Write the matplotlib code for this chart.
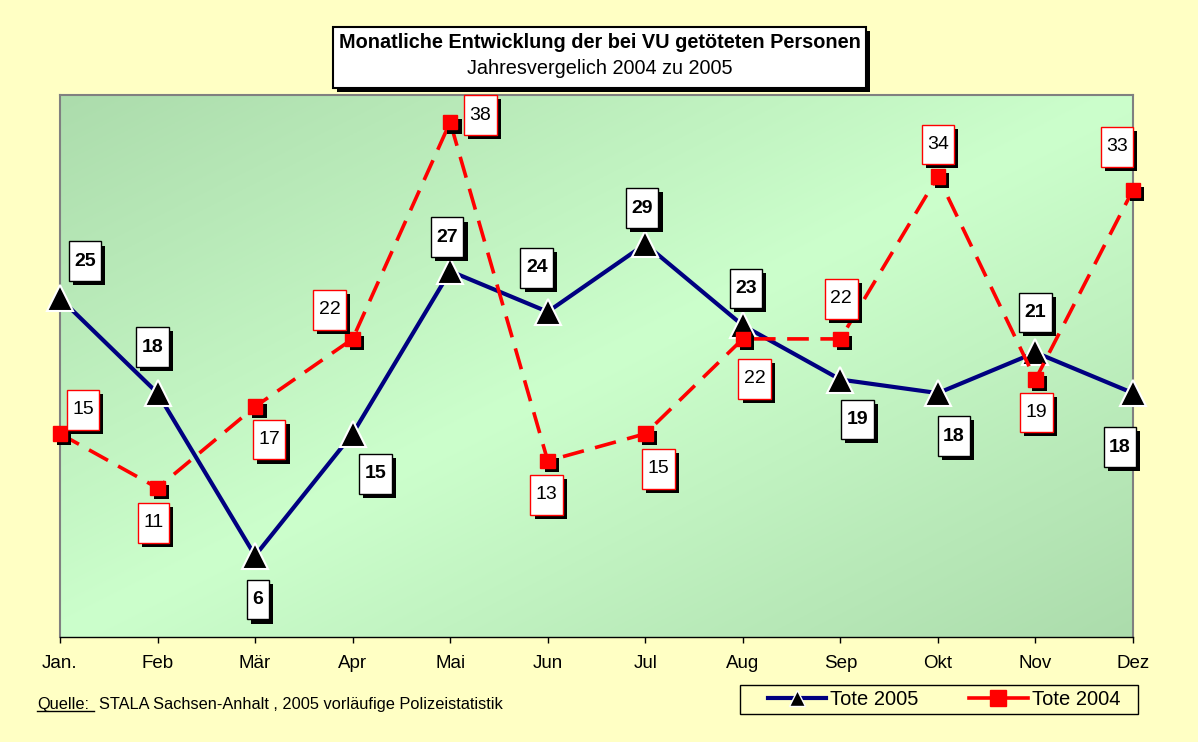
import numpy as np
import matplotlib
matplotlib.use('Agg')
import matplotlib.pyplot as plt
import matplotlib.patheffects as pe
from matplotlib.patches import Rectangle
from matplotlib.lines import Line2D
from matplotlib.path import Path

plt.rcParams['font.family'] = ['Liberation Sans', 'DejaVu Sans']

# data
months = ['Jan.', 'Feb', 'Mär', 'Apr', 'Mai', 'Jun', 'Jul', 'Aug', 'Sep', 'Okt', 'Nov', 'Dez']
tote_2005 = [25, 18, 6, 15, 27, 24, 29, 23, 19, 18, 21, 18]
tote_2004 = [15, 11, 17, 22, 38, 13, 15, 22, 22, 34, 19, 33]

# label offsets in pixels (dx, dy) relative to the point
off_2005 = [(25, 37), (-5, 46), (3, -44), (23, -40), (-3, 34), (-11, 44),
            (-3, 36), (3, 37), (17, -40), (16, -43), (0, 40), (-13, -54)]
off_2004 = [(23, 24), (-4, -35), (14, -33), (-23, 29), (30, 7), (-1, -34),
            (13, -35), (12, -40), (1, 40), (0, 32), (1, -33), (-16, 43)]

BG = '#FFFFC4'
NAVY = '#000080'
RED = '#FF0000'
W, H = 1198, 742


def tall_box(x0, y0, width, height, mutation_size):
    # rectangle padded more vertically than horizontally
    px = 0.28 * mutation_size
    py = 0.58 * mutation_size
    x0, y0 = x0 - px, y0 - py
    x1, y1 = x0 + width + 2 * px, y0 + height + 2 * py
    return Path([(x0, y0), (x1, y0), (x1, y1), (x0, y1), (x0, y0)], closed=True)


shadow = [pe.SimplePatchShadow(offset=(3, -3), shadow_rgbFace='black', alpha=1.0), pe.Normal()]

fig = plt.figure(figsize=(11.98, 7.42), dpi=100)
fig.patch.set_facecolor(BG)
ax = fig.add_axes([60 / W, 1 - 637 / H, (1133 - 60) / W, (637 - 95) / H])

# diagonal gradient background: dark at top-left / bottom-right, light in between
u = np.linspace(0, 1, 300)
v = np.linspace(1, 0, 300)
U, V = np.meshgrid(u, v)
t = (U + (1 - V)) / 2
f = 1 - np.abs(2 * t - 1)
dark = np.array([172, 220, 172]) / 255
light = np.array([204, 255, 204]) / 255
img = dark[None, None, :] * (1 - f[..., None]) + light[None, None, :] * f[..., None]
ax.imshow(img, extent=[0, 1, 0, 1], transform=ax.transAxes, aspect='auto', zorder=0)

x = np.arange(len(months))
ax.plot(x, tote_2005, color=NAVY, lw=3, zorder=3, clip_on=False)
ax.plot(x, tote_2005, ls='none', marker='^', ms=19, mfc='black', mec='white', mew=1.5,
        zorder=4, clip_on=False)
ax.plot(x, tote_2004, color=RED, lw=2.6, ls=(0, (6, 3.2)), zorder=5, clip_on=False)
ax.plot(x, tote_2004, ls='none', marker='s', ms=10.5, mfc=RED, mec=RED,
        path_effects=shadow, zorder=6, clip_on=False)

for xi, val, (dx, dy) in zip(x, tote_2005, off_2005):
    t_ = ax.annotate(str(val), (xi, val), xytext=(dx, dy), textcoords='offset pixels',
                     ha='center', va='center', fontsize=14, fontweight='bold', zorder=8,
                     bbox=dict(boxstyle=tall_box, fc='white', ec='black', lw=1))
    t_.get_bbox_patch().set_path_effects(shadow)

for xi, val, (dx, dy) in zip(x, tote_2004, off_2004):
    t_ = ax.annotate(str(val), (xi, val), xytext=(dx, dy), textcoords='offset pixels',
                     ha='center', va='center', fontsize=14, zorder=8,
                     bbox=dict(boxstyle=tall_box, fc='white', ec=RED, lw=1))
    t_.get_bbox_patch().set_path_effects(shadow)

ax.set_xlim(0, 11)
ax.set_ylim(0, 40)
ax.set_xticks(x)
ax.set_xticklabels(months, fontsize=13.5)
ax.set_yticks([])
ax.tick_params(axis='x', direction='out', length=4, width=1, color='black', pad=9)
for s in ['left', 'top', 'right']:
    ax.spines[s].set_color('#808080')
    ax.spines[s].set_linewidth(1.5)
ax.spines['bottom'].set_color('black')
ax.spines['bottom'].set_linewidth(1)

# title box
box = Rectangle((333 / W, 1 - 88 / H), 533 / W, 61 / H, transform=fig.transFigure,
                fc='white', ec='black', lw=1.5, zorder=5)
box.set_path_effects([pe.SimplePatchShadow(offset=(3, -3), shadow_rgbFace='black', alpha=1.0),
                      pe.Normal()])
fig.add_artist(box)
fig.text(600 / W, 1 - 43 / H, 'Monatliche Entwicklung der bei VU getöteten Personen',
         ha='center', va='center', fontsize=14.3, fontweight='bold', zorder=6)
fig.text(600 / W, 1 - 68 / H, 'Jahresvergelich 2004 zu 2005',
         ha='center', va='center', fontsize=14.3, zorder=6)

# source
q = fig.text(37 / W, 1 - 704 / H, 'Quelle:', ha='left', va='center', fontsize=11.8)
fig.text(99 / W, 1 - 704 / H, 'STALA Sachsen-Anhalt , 2005 vorläufige Polizeistatistik',
         ha='left', va='center', fontsize=11.8)
fig.canvas.draw()
bb = q.get_window_extent()
fig.add_artist(Line2D([bb.x0 / W, (bb.x1 + 5) / W], [(bb.y0 + 1) / H, (bb.y0 + 1) / H],
                      transform=fig.transFigure, color='black', lw=1))

# legend (frame drawn separately to match the box size)
fig.add_artist(Rectangle((740 / W, 1 - 714 / H), 398 / W, 29 / H, transform=fig.transFigure,
                         fc='none', ec='black', lw=1))
handles = [
    Line2D([], [], color=NAVY, lw=3, marker='^', ms=11, mfc='black', mec='white', mew=1),
    Line2D([], [], color=RED, lw=2.6, marker='s', ms=11, mfc=RED, mec=RED),
]
leg = fig.legend(handles, ['Tote 2005', 'Tote 2004'], loc='center', ncol=2,
                 bbox_to_anchor=(944 / W, 1 - 699.5 / H), fontsize=14.5, frameon=False,
                 handlelength=2.9, handletextpad=0.2, columnspacing=2.5,
                 borderpad=0.1, numpoints=1)

fig.savefig('out.png', dpi=100, facecolor=BG)
